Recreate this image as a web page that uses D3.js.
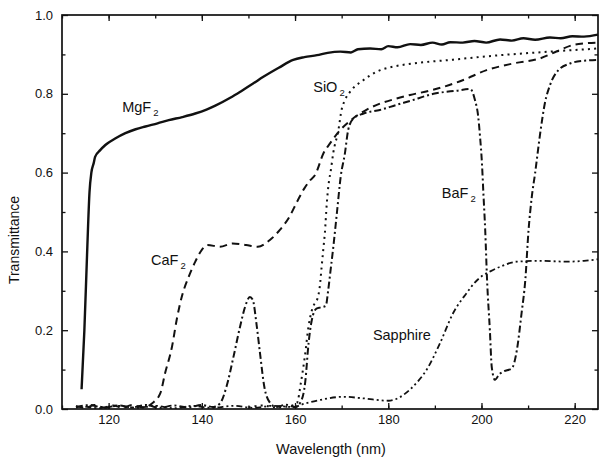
<!DOCTYPE html>
<html>
<head>
<meta charset="utf-8">
<script src="https://cdn.jsdelivr.net/npm/d3@7"></script>
<style>
  html, body { margin: 0; padding: 0; background: #fff; }
  svg { display: block; font-family: "Liberation Sans", Arial, sans-serif; }
  .tick text { font-size: 13px; fill: #111; }
  .tick line { stroke: #111; stroke-width: 1.3; }
</style>
</head>
<body>
<svg id="chart" width="599" height="461"></svg>
<script>
// transmittance curves, [wavelength nm, transmittance]
const mgf2 = [
  [114.2, 0.05], [114.8, 0.2], [115.4, 0.4], [115.9, 0.55], [116.3, 0.60], [116.8, 0.624],
  [117.1, 0.64], [118.2, 0.657], [119.3, 0.67], [121.5, 0.687], [123.6, 0.70], [125.8, 0.71],
  [127.9, 0.717], [130.5, 0.725], [132.9, 0.733], [135.8, 0.741], [138.6, 0.75], [141.0, 0.76],
  [142.9, 0.77], [146.1, 0.79], [148.6, 0.808], [151.0, 0.826], [153.2, 0.843], [156.5, 0.866],
  [159.6, 0.886], [162.0, 0.893], [164.7, 0.898], [167.0, 0.904], [169.7, 0.907], [172.0, 0.905],
  [173.5, 0.913], [176.1, 0.915], [178.5, 0.913], [180.0, 0.921], [182.0, 0.918], [184.7, 0.926],
  [187.0, 0.924], [189.5, 0.93], [191.5, 0.925], [193.3, 0.931], [196.0, 0.93], [198.5, 0.934],
  [201.0, 0.93], [204.0, 0.938], [206.5, 0.935], [209.0, 0.941], [211.5, 0.937], [214.7, 0.943],
  [217.0, 0.941], [219.5, 0.946], [222.0, 0.945], [225.0, 0.95]
];
const sio2 = [
  [150.0, 0.004], [153.0, 0.009], [156.0, 0.004], [159.0, 0.008], [160.4, 0.015], [161.3, 0.07],
  [162.1, 0.133], [162.9, 0.21], [163.6, 0.25], [164.2, 0.268], [164.8, 0.28], [165.3, 0.31],
  [165.7, 0.36], [166.1, 0.41], [166.4, 0.447], [166.8, 0.52], [167.3, 0.58], [167.6, 0.60],
  [168.2, 0.65], [169.3, 0.708], [170.0, 0.76], [170.7, 0.784], [171.8, 0.805], [174.7, 0.835],
  [177.5, 0.856], [181.1, 0.869], [184.0, 0.875], [193.3, 0.886], [204.0, 0.898], [214.7, 0.907],
  [225.0, 0.915]
];
const caf2 = [
  [113.0, 0.008], [115.0, 0.003], [117.0, 0.010], [119.0, 0.004], [121.0, 0.009], [123.0, 0.003],
  [125.0, 0.010], [127.5, 0.004], [129.3, 0.014], [131.1, 0.04], [132.1, 0.09], [133.6, 0.158],
  [134.6, 0.226], [135.7, 0.285], [137.2, 0.336], [138.6, 0.374], [140.0, 0.404], [141.2, 0.416],
  [143.9, 0.412], [146.6, 0.42], [149.5, 0.416], [152.0, 0.412], [154.6, 0.429], [156.7, 0.454],
  [158.8, 0.488], [160.6, 0.53], [162.0, 0.56], [163.2, 0.58], [164.3, 0.594], [166.1, 0.649],
  [167.5, 0.674], [169.7, 0.708], [172.5, 0.738], [175.4, 0.76], [178.2, 0.775], [181.8, 0.788],
  [184.7, 0.797], [189.6, 0.81], [196.1, 0.835], [201.1, 0.86], [206.8, 0.877], [212.6, 0.89],
  [216.2, 0.908], [219.7, 0.924], [222.0, 0.928], [225.0, 0.93]
];
const baf2 = [
  [113.0, 0.004], [116.0, 0.010], [119.0, 0.003], [122.0, 0.009], [125.0, 0.004], [128.0, 0.010],
  [131.0, 0.003], [134.0, 0.009], [137.0, 0.004], [140.0, 0.010], [142.5, 0.005], [143.9, 0.014],
  [145.3, 0.057], [146.8, 0.133], [148.2, 0.209], [149.3, 0.26], [150.3, 0.284], [150.9, 0.278],
  [151.8, 0.209], [152.5, 0.14], [153.4, 0.057], [154.5, 0.018], [156.0, 0.005], [158.0, 0.011],
  [160.0, 0.005], [161.3, 0.02], [162.2, 0.07], [162.9, 0.167], [163.6, 0.226], [164.6, 0.255],
  [165.5, 0.258], [166.6, 0.262], [167.1, 0.30], [167.6, 0.35], [168.2, 0.41], [169.0, 0.50],
  [169.8, 0.59], [170.7, 0.649], [171.4, 0.708], [172.5, 0.737], [174.7, 0.75], [178.2, 0.759],
  [181.8, 0.772], [184.7, 0.782], [189.7, 0.80], [194.7, 0.808], [197.6, 0.812], [198.6, 0.784],
  [199.3, 0.742], [199.7, 0.69], [200.1, 0.624], [200.4, 0.55], [200.8, 0.454], [201.2, 0.327],
  [201.8, 0.20], [202.2, 0.107], [202.9, 0.074], [203.8, 0.088], [204.7, 0.095], [206.5, 0.103],
  [207.6, 0.15], [208.6, 0.243], [209.4, 0.327], [210.1, 0.454], [210.8, 0.539], [211.5, 0.598],
  [212.6, 0.70], [213.6, 0.776], [214.7, 0.822], [216.5, 0.86], [219.0, 0.877], [221.9, 0.884],
  [225.0, 0.886]
];
const sapphire = [
  [115.0, 0.006], [118.0, 0.002], [122.0, 0.008], [126.0, 0.003], [130.0, 0.008], [134.0, 0.002],
  [138.0, 0.008], [142.0, 0.003], [147.0, 0.008], [151.0, 0.003], [155.0, 0.008], [160.0, 0.005],
  [161.1, 0.01], [165.4, 0.023], [170.4, 0.031], [174.7, 0.027], [180.0, 0.021], [182.5, 0.03],
  [184.7, 0.05], [186.5, 0.072], [188.2, 0.099], [191.1, 0.167], [193.9, 0.243], [196.8, 0.294],
  [198.5, 0.32], [200.4, 0.34], [202.0, 0.35], [204.0, 0.361], [207.6, 0.374], [212.6, 0.376],
  [218.3, 0.374], [222.0, 0.376], [225.0, 0.38]
];

const seriesNames = ["MgF", "SiO", "CaF", "BaF", "Sapphire"];
const seriesSubs = ["2", "2", "2", "2", ""];
// label anchors in data units (wavelength, transmittance)
const labelAt = [[122.9, 0.754], [163.9, 0.805], [129.1, 0.365], [191.5, 0.536], [176.7, 0.175]];

const xMajor = [120, 140, 160, 180, 200, 220];
const xMinor = [110, 120, 130, 140, 150, 160, 170, 180, 190, 200, 210, 220];
const yMajor = [0, 0.2, 0.4, 0.6, 0.8, 1.0];
const yMinor = [0.1, 0.3, 0.5, 0.7, 0.9];

const svg = d3.select("#chart");
const frame = { left: 62, right: 598, top: 15, bottom: 409 };

const x = d3.scaleLinear().domain([110, 225]).range([frame.left, frame.right]);
const y = d3.scaleLinear().domain([0, 1]).range([frame.bottom, frame.top]);

// axes: ticks point into the plot on all four sides
function addAxis(axis, transform, labels) {
  const g = svg.append("g").attr("transform", transform).call(axis);
  g.select(".domain").remove();
  if (!labels) g.selectAll("text").remove();
  return g;
}

addAxis(d3.axisBottom(x).tickValues(xMinor).tickSize(-3.5).tickFormat(""), `translate(0,${frame.bottom})`, false);
addAxis(d3.axisTop(x).tickValues(xMinor).tickSize(-3.5).tickFormat(""), `translate(0,${frame.top})`, false);
addAxis(d3.axisBottom(x).tickValues(xMajor).tickSize(-6).tickPadding(6).tickFormat(d3.format("d")), `translate(0,${frame.bottom})`, true);
addAxis(d3.axisTop(x).tickValues(xMajor).tickSize(-6), `translate(0,${frame.top})`, false);

addAxis(d3.axisLeft(y).tickValues(yMinor).tickSize(-3.5).tickFormat(""), `translate(${frame.left},0)`, false);
addAxis(d3.axisRight(y).tickValues(yMinor).tickSize(-3.5).tickFormat(""), `translate(${frame.right},0)`, false);
addAxis(d3.axisLeft(y).tickValues(yMajor).tickSize(-6).tickPadding(9).tickFormat(d3.format(".1f")), `translate(${frame.left},0)`, true);
addAxis(d3.axisRight(y).tickValues(yMajor).tickSize(-6), `translate(${frame.right},0)`, false);

svg.append("rect")
  .attr("x", frame.left).attr("y", frame.top)
  .attr("width", frame.right - frame.left).attr("height", frame.bottom - frame.top)
  .attr("fill", "none").attr("stroke", "#111").attr("stroke-width", 1.7);

const line = d3.line()
  .x(d => x(d[0]))
  .y(d => y(d[1]))
  .curve(d3.curveMonotoneX);

const curves = [
  { data: mgf2, dash: null, width: 2.4 },
  { data: sio2, dash: "2,4.2", width: 2.0 },
  { data: caf2, dash: "7.5,5", width: 2.0 },
  { data: baf2, dash: "7,3,2,3", width: 2.0 },
  { data: sapphire, dash: "6,3,2,3,2,3", width: 1.8 }
];

const plot = svg.append("g");
curves.forEach(c => {
  plot.append("path")
    .attr("d", line(c.data))
    .attr("fill", "none")
    .attr("stroke", "#111")
    .attr("stroke-width", c.width)
    .attr("stroke-dasharray", c.dash)
    .attr("stroke-linejoin", "round");
});

// curve labels with subscripts
seriesNames.forEach((name, i) => {
  const t = svg.append("text")
    .attr("x", x(labelAt[i][0]))
    .attr("y", y(labelAt[i][1]))
    .attr("font-size", 14.5)
    .attr("fill", "#111")
    .text(name);
  if (seriesSubs[i]) {
    t.append("tspan")
      .attr("font-size", 9.5)
      .attr("dx", 2)
      .attr("dy", 4)
      .text(seriesSubs[i]);
  }
});

svg.append("text")
  .attr("x", (frame.left + frame.right) / 2 + 1)
  .attr("y", 454)
  .attr("text-anchor", "middle")
  .attr("font-size", 14.5)
  .attr("fill", "#111")
  .text("Wavelength (nm)");

svg.append("text")
  .attr("transform", `translate(19,${(frame.top + frame.bottom) / 2 + 28}) rotate(-90)`)
  .attr("text-anchor", "middle")
  .attr("font-size", 14)
  .attr("fill", "#111")
  .text("Transmittance");
</script>
</body>
</html>
